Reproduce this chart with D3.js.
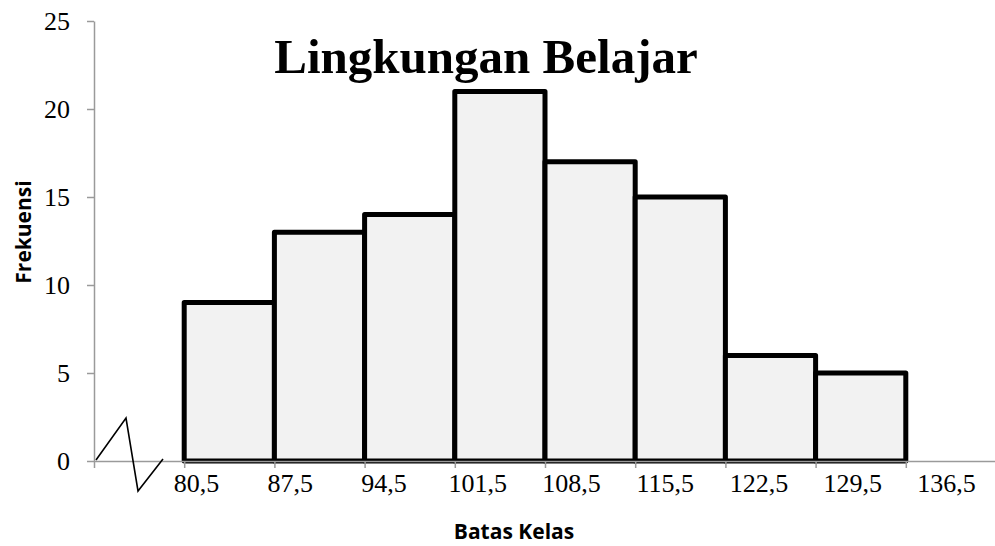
<!DOCTYPE html>
<html>
<head>
<meta charset="utf-8">
<script src="https://cdn.jsdelivr.net/npm/d3@7"></script>
<style>
  html, body { margin: 0; padding: 0; background: #fff; }
  svg { display: block; }
</style>
</head>
<body>
<svg id="chart" width="995" height="546"></svg>
<script>
// Class boundaries (batas kelas) and frequencies per class
const boundaries = [80.5, 87.5, 94.5, 101.5, 108.5, 115.5, 122.5, 129.5, 136.5];
const frequencies = [9, 13, 14, 21, 17, 15, 6, 5];
const boundaryLabels = ["80,5", "87,5", "94,5", "101,5", "108,5", "115,5", "122,5", "129,5", "136,5"];
const yTicks = [0, 5, 10, 15, 20, 25];

const title = "Lingkungan Belajar";
const xTitle = "Batas Kelas";
const yTitle = "Frekuensi";

const svg = d3.select("#chart");
const serif = "'Liberation Serif', 'Times New Roman', serif";
const sans = "'Open Sans', 'Noto Sans', sans-serif";
const axisColor = "#9a9a9a";

const classWidth = boundaries[1] - boundaries[0];
const x = d3.scaleLinear()
  .domain([boundaries[0] - classWidth, boundaries[boundaries.length - 1] + classWidth])
  .range([94, 996]);
const y = d3.scaleLinear().domain([0, 25]).range([461, 21]);
const labelX = d3.scalePoint().domain(boundaryLabels).range([196.5, 946.5]);

const bins = frequencies.map((f, i) => ({ x0: boundaries[i], x1: boundaries[i + 1], f }));

// Histogram bars
svg.append("g")
  .selectAll("rect")
  .data(bins)
  .join("rect")
  .attr("x", d => x(d.x0))
  .attr("y", d => y(d.f))
  .attr("width", d => x(d.x1) - x(d.x0))
  .attr("height", d => y(0) - y(d.f))
  .attr("fill", "#f2f2f2")
  .attr("stroke", "#000")
  .attr("stroke-width", 5)
  .attr("stroke-linejoin", "round");

// Y axis
const yAxis = svg.append("g")
  .attr("transform", `translate(${x.range()[0]},0)`)
  .call(d3.axisLeft(y).tickValues(yTicks).tickSize(7).tickSizeOuter(0).tickFormat(d3.format("d")));
yAxis.select(".domain").attr("stroke", axisColor).attr("stroke-width", 1.5);
yAxis.selectAll(".tick line").attr("stroke", axisColor).attr("stroke-width", 1.5);
yAxis.selectAll(".tick text")
  .attr("x", -24)
  .attr("fill", "#000")
  .style("font-family", serif)
  .style("font-size", "26px");

// X axis (ticks on the class boundaries plus the break slot)
const xTickValues = [x.domain()[0]].concat(boundaries, [x.domain()[1]]);
const xAxis = svg.append("g")
  .attr("transform", `translate(0,${y(0)})`)
  .call(d3.axisBottom(x).tickValues(xTickValues).tickSize(7).tickSizeOuter(0).tickFormat(""));
xAxis.select(".domain").attr("stroke", axisColor).attr("stroke-width", 1.5);
xAxis.selectAll(".tick line").attr("stroke", axisColor).attr("stroke-width", 1.5);

// Boundary labels
svg.append("g")
  .selectAll("text")
  .data(boundaryLabels)
  .join("text")
  .attr("x", d => labelX(d))
  .attr("y", 492)
  .attr("text-anchor", "middle")
  .style("font-family", serif)
  .style("font-size", "26px")
  .attr("fill", "#000")
  .text(d => d);

// Axis break symbol
const x0 = x.range()[0];
const y0 = y(0);
svg.append("path")
  .attr("d", `M${x0 + 2},${y0 - 1} L${x0 + 32},${y0 - 43} L${x0 + 44},${y0 + 30} L${x0 + 69},${y0 - 2}`)
  .attr("fill", "none")
  .attr("stroke", "#000")
  .attr("stroke-width", 1.6);

// Title
svg.append("text")
  .attr("x", 486)
  .attr("y", 73)
  .attr("text-anchor", "middle")
  .style("font-family", serif)
  .style("font-weight", "bold")
  .style("font-size", "49px")
  .attr("fill", "#000")
  .text(title);

// Axis titles
svg.append("text")
  .attr("x", 514)
  .attr("y", 539)
  .attr("text-anchor", "middle")
  .style("font-family", sans)
  .style("font-weight", "bold")
  .style("font-size", "21px")
  .attr("fill", "#000")
  .text(xTitle);

svg.append("text")
  .attr("transform", "translate(31,232) rotate(-90)")
  .attr("text-anchor", "middle")
  .style("font-family", sans)
  .style("font-weight", "bold")
  .style("font-size", "21px")
  .attr("fill", "#000")
  .text(yTitle);
</script>
</body>
</html>
